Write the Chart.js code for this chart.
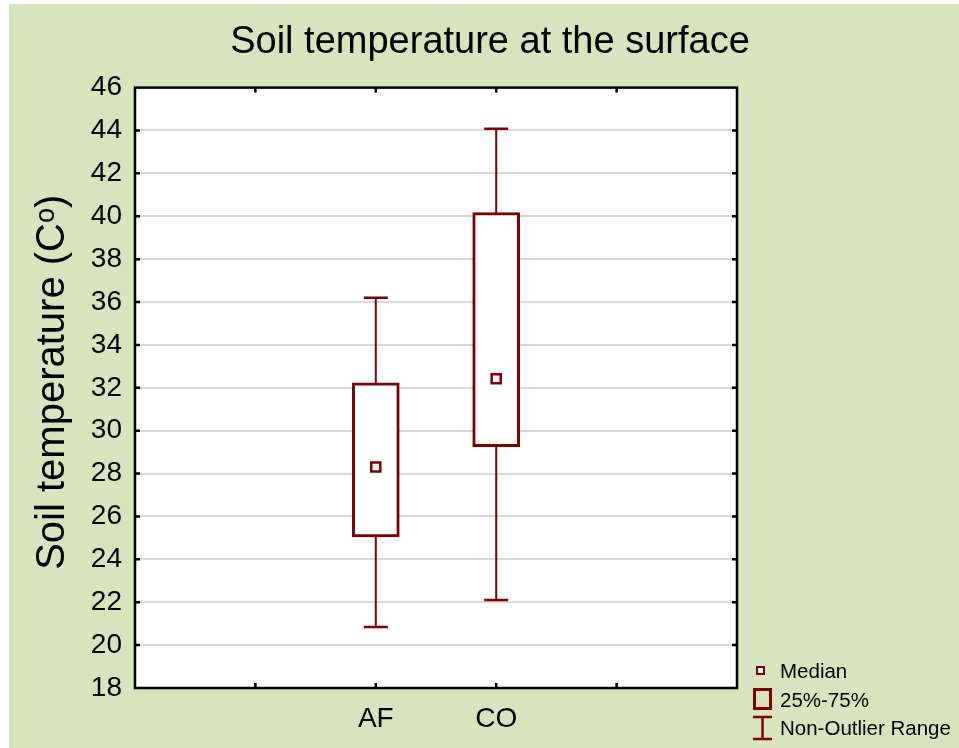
<!DOCTYPE html>
<html>
<head>
<meta charset="utf-8">
<title>Soil temperature at the surface</title>
<script src="https://cdn.jsdelivr.net/npm/chart.js@4"></script>
<style>
  html, body { margin: 0; padding: 0; background: #fff; }
  #wrap { position: relative; width: 959px; height: 748px; overflow: hidden; }
  #chart { position: absolute; left: 0; top: 0; }
  .legend-text {
    position: absolute; left: 780px; height: 24px; line-height: 24px;
    font: 20.5px Arial, 'Liberation Sans', sans-serif; color: #000; white-space: nowrap;
  }
  #legend-icons { position: absolute; left: 745px; top: 655px; }
</style>
</head>
<body>
<div id="wrap">
  <canvas id="chart" width="959" height="748"></canvas>
  <svg id="legend-icons" width="214" height="93">
    <rect x="12" y="12" width="7" height="7" fill="#fff" stroke="#7f0000" stroke-width="2"/>
    <rect x="9.5" y="34.5" width="16" height="19" fill="none" stroke="#7f0000" stroke-width="3"/>
    <path d="M8 62 H27 M17.5 62 V84 M8 84 H27" fill="none" stroke="#7f0000" stroke-width="2.5"/>
  </svg>
  <div class="legend-text" style="top:659px">Median</div>
  <div class="legend-text" style="top:688px">25%-75%</div>
  <div class="legend-text" style="top:716px">Non-Outlier Range</div>
</div>
<script>
'use strict';

// ── Data ───────────────────────────────────────────────────────────────────
const groups      = ['AF', 'CO'];
const whiskerLow  = [20.85, 22.10];   // non-outlier min
const boxLow      = [25.05, 29.25];   // 25th percentile
const medians     = [28.31, 32.42];
const boxHigh     = [32.23, 40.17];   // 75th percentile
const whiskerHigh = [36.20, 44.08];   // non-outlier max

const xLabels = ['', '', ...groups, '', ''];
const yMin = 18, yMax = 46, yStep = 2;

// ── Style ──────────────────────────────────────────────────────────────────
const DARK_RED = '#7f0000';
const PANEL_BG = '#d7e4bd';
const FONT     = "Arial, 'Liberation Sans', sans-serif";

Chart.defaults.font.family = FONT;
Chart.defaults.color = '#000';

// green panel, white plot area, black frame with inward ticks
const framePlugin = {
  id: 'frame',
  beforeDraw(chart) {
    const { ctx, chartArea: a } = chart;
    ctx.save();
    ctx.fillStyle = PANEL_BG;
    ctx.fillRect(9, 4, chart.width - 9, chart.height - 4);
    ctx.fillStyle = '#fff';
    ctx.fillRect(a.left, a.top, a.right - a.left, a.bottom - a.top);
    ctx.restore();
  },
  afterDraw(chart) {
    const { ctx, chartArea: a, scales } = chart;
    const len = 5;
    ctx.save();
    ctx.strokeStyle = '#000';
    ctx.lineWidth = 2.5;
    ctx.beginPath();
    scales.y.ticks.forEach((t, i, arr) => {
      if (i === 0 || i === arr.length - 1) return;
      const py = scales.y.getPixelForTick(i);
      ctx.moveTo(a.left, py);  ctx.lineTo(a.left + len, py);
      ctx.moveTo(a.right, py); ctx.lineTo(a.right - len, py);
    });
    scales.x.ticks.forEach((t, i, arr) => {
      if (i === 0 || i === arr.length - 1) return;
      const px = scales.x.getPixelForTick(i);
      ctx.moveTo(px, a.bottom); ctx.lineTo(px, a.bottom - len);
      ctx.moveTo(px, a.top);    ctx.lineTo(px, a.top + len);
    });
    ctx.stroke();
    ctx.strokeRect(a.left, a.top, a.right - a.left, a.bottom - a.top);
    ctx.restore();
  },
};

// ── Datasets ───────────────────────────────────────────────────────────────
const whiskerSets = groups.map((g, i) => ({
  type: 'line',
  data: [{ x: g, y: whiskerLow[i] }, { x: g, y: whiskerHigh[i] }],
  borderColor: DARK_RED,
  borderWidth: 2,
  pointStyle: 'line',
  pointRadius: 12,
  pointBorderWidth: 2.5,
  pointBorderColor: DARK_RED,
  order: 3,
}));

const boxSet = {
  type: 'bar',
  data: groups.map((g, i) => ({ x: g, y: [boxLow[i], boxHigh[i]] })),
  backgroundColor: '#fff',
  borderColor: DARK_RED,
  borderWidth: 3,
  borderSkipped: false,
  barThickness: 47,
  order: 2,
};

const medianSet = {
  type: 'line',
  showLine: false,
  data: groups.map((g, i) => ({ x: g, y: medians[i] })),
  pointStyle: 'rect',
  pointRadius: 6.4,
  pointBorderWidth: 2.5,
  pointBorderColor: DARK_RED,
  pointBackgroundColor: '#fff',
  order: 1,
};

// ── Chart ──────────────────────────────────────────────────────────────────
new Chart(document.getElementById('chart'), {
  type: 'bar',
  data: { labels: xLabels, datasets: [...whiskerSets, boxSet, medianSet] },
  options: {
    responsive: false,
    animation: false,
    layout: { padding: { left: 21, right: 0, top: 0, bottom: 0 } },
    plugins: {
      legend: { display: false },
      tooltip: { enabled: false },
      title: {
        display: true,
        text: 'Soil temperature at the surface',
        color: '#000',
        font: { size: 38, weight: 'normal' },
        padding: { top: 20, bottom: 22 },
      },
    },
    scales: {
      x: {
        type: 'category',
        offset: false,
        grid: { display: false, offset: false },
        border: { display: false },
        ticks: { font: { size: 28 }, color: '#000', padding: 6, autoSkip: false, maxRotation: 0 },
        afterFit(s) { s.height = 60; },
      },
      y: {
        min: yMin,
        max: yMax,
        grid: { color: '#d9d9d9', lineWidth: 2, drawTicks: false },
        border: { display: false },
        ticks: { stepSize: yStep, font: { size: 28 }, color: '#000', padding: 13 },
        title: {
          display: true,
          // leading space nudges the centred title slightly upwards
          text: ' Soil temperature (Cᵒ)',
          color: '#000',
          font: { size: 40 },
          padding: { top: 8, bottom: 0 },
        },
        afterFit(s) { s.width = 114; },
      },
      // empty right-hand strip that leaves room for the legend
      yRight: {
        position: 'right',
        min: yMin,
        max: yMax,
        grid: { display: false },
        border: { display: false },
        ticks: { display: false },
        afterFit(s) { s.width = 222; },
      },
    },
  },
  plugins: [framePlugin],
});
</script>
</body>
</html>
